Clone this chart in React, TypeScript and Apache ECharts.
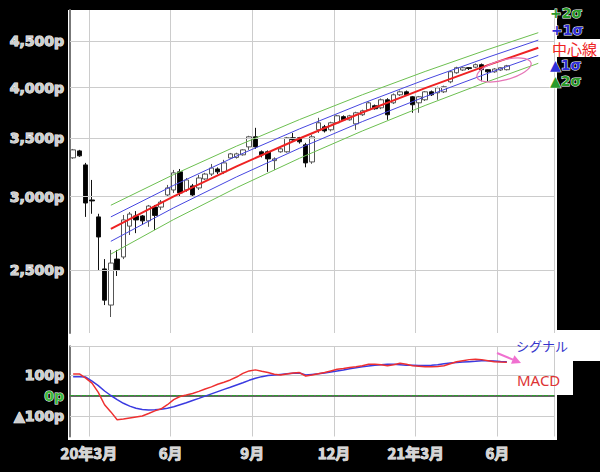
import React, { useEffect, useRef } from 'react';
import * as echarts from 'echarts';

const firstWeek = '2020-02-10';
const weekCount = 77;

const monthTickIndex = [3, 16, 29, 42, 55, 68];
const monthTickLabels = ['20年3月', '6月', '9月', '12月', '21年3月', '6月'];

const priceTicks = [2500, 3000, 3500, 4000, 4500];
const priceTickLabels = ['2,500p', '3,000p', '3,500p', '4,000p', '4,500p'];
const priceMin = 2119;
const priceMax = 4866;

const macdTicks = [100, 0, -100];
const macdTickLabels = ['100p', '0p', '▲100p'];
const macdMin = -200;
const macdMax = 240;

// weekly candles: [open, close, low, high]
const candles = [
  [3326, 3395, 3318, 3403], [3386, 3343, 3335, 3395], [3266, 2961, 2857, 3283], [2984, 2977, 2880, 3142],
  [2857, 2713, 2492, 2880], [2499, 2306, 2277, 2563], [2277, 2537, 2208, 2624], [2563, 2492, 2454, 2624],
  [2577, 2835, 2563, 2871], [2790, 2878, 2727, 2893], [2864, 2835, 2740, 2900], [2864, 2828, 2798, 2871],
  [2828, 2938, 2785, 2946], [2930, 2868, 2762, 2946], [2930, 2968, 2909, 2984], [3023, 3078, 3008, 3102],
  [3062, 3200, 3039, 3224], [3208, 3039, 3015, 3232], [3062, 3142, 3047, 3158], [3094, 3023, 3008, 3110],
  [3078, 3158, 3062, 3183], [3150, 3190, 3142, 3200], [3190, 3240, 3174, 3274], [3232, 3208, 3190, 3245],
  [3208, 3283, 3190, 3309], [3325, 3360, 3318, 3368], [3330, 3360, 3320, 3370], [3352, 3395, 3345, 3400],
  [3421, 3511, 3395, 3520], [3511, 3421, 3404, 3593], [3378, 3352, 3330, 3390], [3378, 3317, 3208, 3390],
  [3302, 3317, 3224, 3330], [3378, 3404, 3370, 3410], [3378, 3502, 3370, 3510], [3502, 3484, 3475, 3546],
  [3502, 3466, 3450, 3510], [3439, 3283, 3246, 3457], [3291, 3511, 3275, 3529], [3575, 3640, 3546, 3687],
  [3602, 3565, 3550, 3620], [3575, 3640, 3560, 3650], [3640, 3706, 3630, 3715], [3698, 3668, 3660, 3710],
  [3668, 3706, 3660, 3715], [3630, 3735, 3575, 3745], [3716, 3754, 3705, 3765], [3764, 3832, 3755, 3845],
  [3803, 3774, 3765, 3815], [3783, 3862, 3770, 3875], [3862, 3716, 3668, 3878], [3832, 3912, 3820, 3925],
  [3912, 3942, 3900, 3955], [3942, 3912, 3900, 3955], [3892, 3813, 3735, 3900], [3832, 3892, 3735, 3900],
  [3862, 3942, 3850, 3950], [3942, 3912, 3900, 3955], [3932, 3983, 3862, 3995], [3942, 3994, 3930, 4005],
  [4045, 4151, 4030, 4160], [4140, 4194, 4130, 4205], [4170, 4194, 4160, 4205], [4195, 4185, 4170, 4200],
  [4200, 4227, 4190, 4240], [4227, 4173, 4050, 4240], [4173, 4150, 4050, 4180], [4150, 4180, 4140, 4190],
  [4170, 4194, 4160, 4200], [4173, 4215, 4165, 4225],
];

// trend channel read at these week indexes
const bandIndex = [6, 16, 26, 36, 46, 56, 66, 74];
const centerLine = [2770, 3012, 3254, 3496, 3738, 3980, 4222, 4416];
const plus1Sigma = [2857, 3099, 3341, 3583, 3825, 4067, 4309, 4503];
const plus2Sigma = [2944, 3186, 3428, 3670, 3912, 4154, 4396, 4590];
const minus1Sigma = [2683, 2925, 3167, 3409, 3651, 3893, 4135, 4329];
const minus2Sigma = [2596, 2838, 3080, 3322, 3564, 3806, 4048, 4242];

const macd = [
  105, 105, 85, 60, 15, -45, -80, -118, -115, -110, -105, -100, -88, -75, -65, -45, -20, -5, 2, 10,
  20, 32, 42, 55, 65, 76, 90, 108, 120, 125, 118, 112, 104, 100, 105, 110, 112, 95, 100, 106,
  112, 120, 128, 132, 137, 140, 145, 152, 153, 150, 145, 150, 157, 152, 145, 143, 140, 140, 142, 145,
  155, 165, 170, 175, 177, 175, 170, 165, 163, 162,
];
const signal = [
  92, 92, 90, 70, 48, 22, 0, -20, -38, -52, -62, -68, -71, -70, -67, -62, -55, -45, -35, -24,
  -14, -3, 8, 19, 30, 40, 51, 62, 74, 84, 92, 97, 100, 103, 106, 108, 110, 100, 103, 106,
  110, 115, 120, 124, 130, 135, 140, 144, 148, 150, 152, 152, 150, 148, 147, 146, 146, 147, 150, 155,
  158, 161, 163, 165, 167, 170, 170, 168, 166, 165,
];

function weekCategories(): string[] {
  const base = Date.parse(firstWeek + 'T00:00:00Z');
  const out: string[] = [];
  for (let i = 0; i < weekCount; i++) out.push(new Date(base + i * 604800000).toISOString().slice(0, 10));
  return out;
}

const LN = (v: number) => Math.log(v);
const isTick = (i: number) => monthTickIndex.indexOf(i) >= 0;

const axisTextStyle = {
  color: '#cfcfcf',
  textBorderColor: '#ffffff',
  textBorderWidth: 1,
  fontFamily: '"DejaVu Sans"',
  fontWeight: 'bold' as const,
  fontSize: 14,
};

function bandSeries(name: string, values: number[], color: string, width: number) {
  return {
    name,
    type: 'line',
    xAxisIndex: 0,
    yAxisIndex: 0,
    z: 5,
    symbol: 'none',
    silent: true,
    lineStyle: { color, width },
    data: bandIndex.map((ix, k) => [ix, LN(values[k])]),
  };
}

function legendText(text: string, x: number, y: number, fill: string, font: string, stroke?: string) {
  return {
    type: 'text',
    z: 10,
    style: {
      text, x, y, fill, font,
      stroke: stroke || undefined,
      lineWidth: stroke ? 1 : 0,
      align: 'left', textAlign: 'left',
      verticalAlign: 'middle', textVerticalAlign: 'middle',
    },
  };
}

function boxRect(x: number, y: number, width: number, height: number) {
  return { type: 'rect', z: 1, silent: true, shape: { x, y, width, height }, style: { fill: '#ffffff' } };
}

// white panel painted as stacked thick white strokes
function whiteStrokes(x0: number, y0: number, x1: number, y1: number) {
  const step = 10;
  const out: any[] = [];
  for (let y = y0; y < y1; y += step) {
    const h = Math.min(step, y1 - y);
    out.push({
      type: 'line', z: 1, silent: true,
      shape: { x1: x0, y1: y + h / 2, x2: x1, y2: y + h / 2 },
      style: { stroke: '#ffffff', lineWidth: h, lineCap: 'butt' },
    });
  }
  return out;
}

function buildOption() {
  const cats = weekCategories();
  const gridLine = { show: true, interval: (i: number) => isTick(i), lineStyle: { color: '#cccccc', width: 1 } };
  return {
    animation: false,
    backgroundColor: 'transparent',
    grid: [
      { left: 70, top: 10, width: 484, height: 323 },
      { left: 70, top: 346.3, width: 484, height: 90.2 },
    ],
    xAxis: [
      {
        type: 'category', gridIndex: 0, data: cats, boundaryGap: true, z: 2,
        axisLine: { show: false }, axisTick: { show: false, interval: (i: number) => isTick(i) },
        axisLabel: { show: false }, splitLine: gridLine,
      },
      {
        type: 'category', gridIndex: 1, data: cats, boundaryGap: true, z: 2,
        axisLine: { show: true, lineStyle: { color: '#666666', width: 2 } },
        axisTick: { show: false, interval: (i: number) => isTick(i) },
        axisLabel: {
          show: true,
          interval: (i: number) => isTick(i),
          formatter: (_v: string, i: number) => monthTickLabels[monthTickIndex.indexOf(i)] || '',
          margin: 8,
          padding: [0, 6.3, 0, 0],
          color: '#d6d6d6',
          textBorderColor: '#ffffff',
          textBorderWidth: 0.8,
          fontFamily: '"Noto Sans CJK JP"',
          fontWeight: 'bold',
          fontSize: 15,
        },
        splitLine: gridLine,
      },
    ],
    yAxis: [
      {
        type: 'value', gridIndex: 0, min: LN(priceMin), max: LN(priceMax), z: 2,
        axisLine: { show: true, lineStyle: { color: '#777777', width: 2 } },
        axisTick: { show: false }, axisLabel: { show: false }, splitLine: { show: false },
      },
      {
        type: 'value', gridIndex: 1, min: macdMin, max: macdMax, z: 2,
        axisLine: { show: true, lineStyle: { color: '#777777', width: 2 } },
        axisTick: { show: false }, axisLabel: { show: false }, splitLine: { show: false },
      },
    ],
    series: [
      {
        name: 'price-grid', type: 'line', xAxisIndex: 0, yAxisIndex: 0, z: 3, data: [],
        markLine: {
          silent: true, symbol: 'none', animation: false,
          lineStyle: { color: '#cccccc', width: 1, type: 'solid' },
          label: { position: 'start', distance: 6, formatter: (p: any) => p.name, ...axisTextStyle },
          data: priceTicks.map((v, i) => ({ name: priceTickLabels[i], yAxis: LN(v) })),
        },
      },
      {
        name: 'ローソク足', type: 'candlestick', xAxisIndex: 0, yAxisIndex: 0, z: 4, barWidth: 5,
        itemStyle: { color: '#ffffff', color0: '#000000', borderColor: '#555555', borderColor0: '#111111', borderWidth: 1 },
        data: candles.map((c) => c.map(LN)),
      },
      bandSeries('+2σ', plus2Sigma, '#6cbf50', 1),
      bandSeries('+1σ', plus1Sigma, '#4646e0', 1),
      bandSeries('▲1σ', minus1Sigma, '#4646e0', 1),
      bandSeries('▲2σ', minus2Sigma, '#6cbf50', 1),
      bandSeries('中心線', centerLine, '#ee2222', 2),
      {
        name: 'macd-grid', type: 'line', xAxisIndex: 1, yAxisIndex: 1, z: 3, data: [],
        markLine: {
          silent: true, symbol: 'none', animation: false,
          lineStyle: { color: '#cccccc', width: 1, type: 'solid' },
          label: { position: 'start', distance: 6, formatter: (p: any) => p.name, ...axisTextStyle },
          data: [
            ...macdTicks.map((v, i) => {
              const zero = v === 0;
              return {
                name: macdTickLabels[i], yAxis: v,
                lineStyle: zero ? { color: '#2e9e2e', type: 'dashed', width: 1 } : undefined,
                label: zero ? { color: '#3cb83c' } : undefined,
              };
            }),
            { name: '', yAxis: macdMax, label: { show: false } },
          ],
        },
      },
      {
        name: 'シグナル', type: 'line', xAxisIndex: 1, yAxisIndex: 1, z: 5, symbol: 'none', silent: true,
        lineStyle: { color: '#3a3ae0', width: 1.5 }, data: signal,
      },
      {
        name: 'MACD', type: 'line', xAxisIndex: 1, yAxisIndex: 1, z: 5, symbol: 'none', silent: true,
        lineStyle: { color: '#ee3030', width: 1.5 }, data: macd,
      },
    ],
    graphic: {
      elements: [
        ...whiteStrokes(68, 10, 557, 440),
        boxRect(557, 39, 43, 18),
        boxRect(557, 330, 43, 31),
        boxRect(557, 361, 16, 34),
        legendText('+2σ', 550, 13, '#2a9a2a', 'bold 14px "DejaVu Sans"', '#ffffff'),
        legendText('+1σ', 551, 30, '#2f2fd8', 'bold 14px "DejaVu Sans"', '#ffffff'),
        legendText('中心線', 552, 48, '#ee2222', '15px "Noto Sans CJK JP"'),
        legendText('▲1σ', 550, 65, '#2f2fd8', 'bold 14px "DejaVu Sans"', '#ffffff'),
        legendText('▲2σ', 550, 81, '#2a9a2a', 'bold 14px "DejaVu Sans"', '#ffffff'),
        legendText('シグナル', 516, 345, '#3535cc', '13px "Noto Sans CJK JP"'),
        legendText('MACD', 517, 380, '#dd3333', '15px "Noto Sans"'),
        {
          type: 'ellipse', z: 10, silent: true, x: 504, y: 70, rotation: 0.26,
          shape: { cx: 0, cy: 0, rx: 28, ry: 10 },
          style: { fill: 'none', stroke: '#e676b6', lineWidth: 1.2 },
        },
        {
          type: 'line', z: 10, silent: true,
          shape: { x1: 497, y1: 353, x2: 513, y2: 359.7 },
          style: { stroke: '#f070d0', lineWidth: 2 },
        },
        {
          type: 'polygon', z: 10, silent: true,
          shape: { points: [[521, 363], [511, 363.7], [514.4, 355.3]] },
          style: { fill: '#f070d0' },
        },
      ],
    },
  };
}

export default function App() {
  const ref = useRef<HTMLDivElement>(null);
  useEffect(() => {
    if (!ref.current) return;
    const chart = echarts.init(ref.current, undefined, { renderer: 'svg' });
    chart.setOption(buildOption() as any);
    return () => chart.dispose();
  }, []);
  return (
    <div style={{ position: 'fixed', left: 0, top: 0, width: 600, height: 472, background: '#000000' }}>
      <div style={{ position: 'absolute', left: 68, top: 10, width: 489, height: 430, background: '#ffffff' }} />
      <div ref={ref} style={{ position: 'absolute', left: 0, top: 0, width: 600, height: 472 }} />
    </div>
  );
}
